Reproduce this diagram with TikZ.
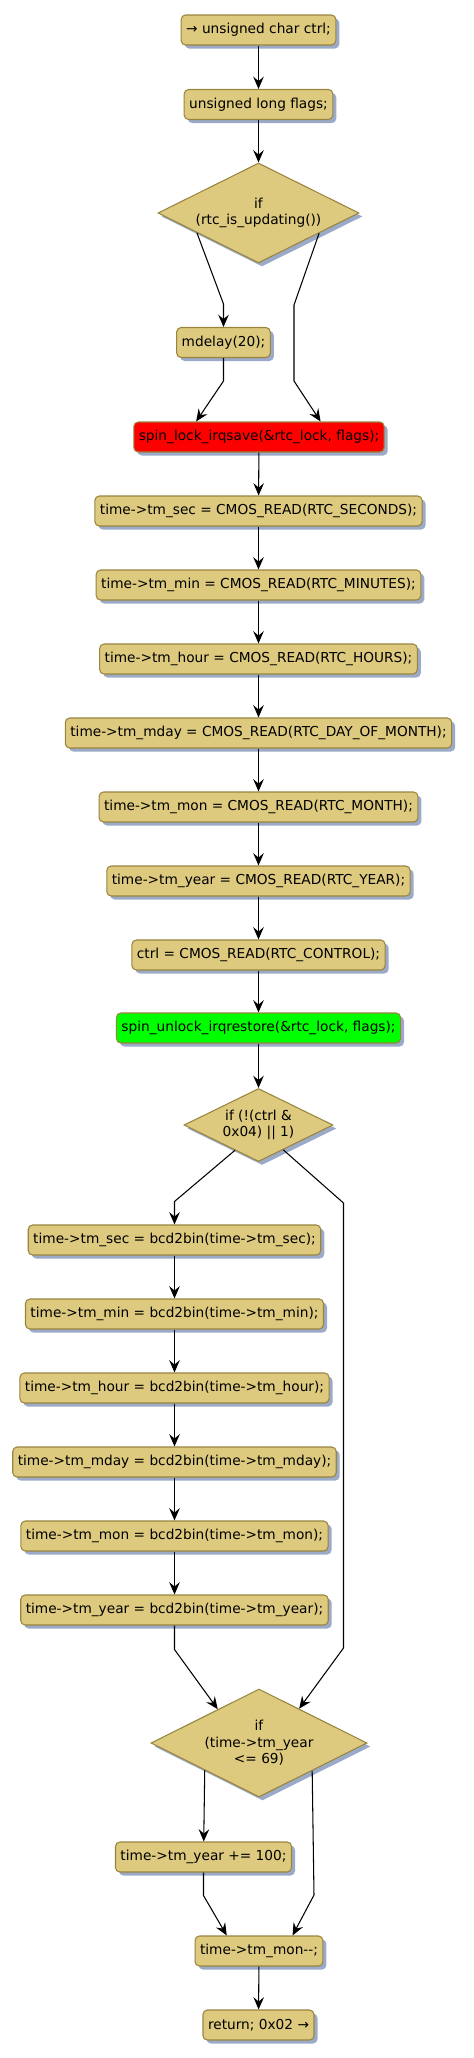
\documentclass[tikz,border=0pt]{standalone}
\usepackage{fontspec}
\setmainfont{DejaVu Sans}
\usetikzlibrary{shapes.geometric,arrows.meta,calc,shadows}
\definecolor{stmtcolor}{RGB}{221,202,126}
\definecolor{edgecolor}{RGB}{152,132,62}
\definecolor{shadecolor}{RGB}{155,170,200}
\definecolor{lockcolor}{RGB}{255,0,0}
\definecolor{unlockcolor}{RGB}{0,255,0}

\begin{document}
\begin{tikzpicture}[
    box/.style={rectangle, draw=edgecolor, fill=stmtcolor, rounded corners=2.5pt, line width=0.6pt, minimum height=0.6cm, inner xsep=0.1cm, inner ysep=0pt, font=\fontsize{7.8}{9.4}\selectfont, drop shadow={shadow xshift=0.07cm, shadow yshift=-0.07cm, fill=shadecolor, opacity=1}},
    cond/.style={diamond, aspect=2, draw=edgecolor, fill=stmtcolor, line width=0.6pt, inner sep=0pt, align=center, font=\fontsize{7.8}{9.4}\selectfont, drop shadow={shadow xshift=0.07cm, shadow yshift=-0.07cm, fill=shadecolor, opacity=1}},
    arrow/.style={-{Stealth[length=7pt,width=6pt,inset=2.5pt]}, line width=0.6pt}
]
\useasboundingbox (0,0) rectangle (9.46,-41.16);

% ============ Read the clock ============
\node[box] (decl1) at (5.17, -0.6) {→ unsigned char ctrl;};
\node[box] (decl2) at (5.17, -2.09) {unsigned long flags;};
\node[cond, minimum width=4.02cm, minimum height=2cm] (upd) at (5.17, -4.26) {if\\(rtc\_is\_updating())};
\node[box] (delay) at (4.47, -6.85) {mdelay(20);};
\node[box, fill=lockcolor] (lock) at (5.18, -8.74) {spin\_lock\_irqsave(\&rtc\_lock, flags);};
\node[box] (rsec) at (5.17, -10.22) {time->tm\_sec = CMOS\_READ(RTC\_SECONDS);};
\node[box] (rmin) at (5.17, -11.70) {time->tm\_min = CMOS\_READ(RTC\_MINUTES);};
\node[box] (rhour) at (5.17, -13.18) {time->tm\_hour = CMOS\_READ(RTC\_HOURS);};
\node[box] (rmday) at (5.17, -14.66) {time->tm\_mday = CMOS\_READ(RTC\_DAY\_OF\_MONTH);};
\node[box] (rmon) at (5.17, -16.14) {time->tm\_mon = CMOS\_READ(RTC\_MONTH);};
\node[box] (ryear) at (5.17, -17.62) {time->tm\_year = CMOS\_READ(RTC\_YEAR);};
\node[box] (rctrl) at (5.17, -19.10) {ctrl = CMOS\_READ(RTC\_CONTROL);};
\node[box, fill=unlockcolor] (unlock) at (5.17, -20.56) {spin\_unlock\_irqrestore(\&rtc\_lock, flags);};

\draw[arrow] (decl1) -- (decl2);
\draw[arrow] (decl2) -- (upd);
\draw[arrow] ($(upd.west)!0.39!(upd.south)$) -- ($(delay.north)+(0,0.46)$) -- (delay);
\draw[arrow] ($(upd.east)!0.4!(upd.south)$) -- (5.88,-6.1) -- (5.88,-7.62) -- ($(lock.north)!0.49!(lock.north east)$);
\draw[arrow] (delay) -- ($(delay.south)+(0,-0.46)$) -- ($(lock.north)!0.5!(lock.north west)$);
\draw[arrow] (lock) -- (rsec);
\draw[arrow] (rsec) -- (rmin);
\draw[arrow] (rmin) -- (rhour);
\draw[arrow] (rhour) -- (rmday);
\draw[arrow] (rmday) -- (rmon);
\draw[arrow] (rmon) -- (ryear);
\draw[arrow] (ryear) -- (rctrl);
\draw[arrow] (rctrl) -- (unlock);

% ============ BCD conversion ============
\node[cond, minimum width=2.98cm, minimum height=1.46cm] (bcd) at (5.17, -22.5) {if (!(ctrl \&\\0x04) || 1)};
\node[box] (bsec) at (3.49, -24.8) {time->tm\_sec = bcd2bin(time->tm\_sec);};
\node[box] (bmin) at (3.49, -26.28) {time->tm\_min = bcd2bin(time->tm\_min);};
\node[box] (bhour) at (3.49, -27.76) {time->tm\_hour = bcd2bin(time->tm\_hour);};
\node[box] (bmday) at (3.49, -29.24) {time->tm\_mday = bcd2bin(time->tm\_mday);};
\node[box] (bmon) at (3.49, -30.72) {time->tm\_mon = bcd2bin(time->tm\_mon);};
\node[box] (byear) at (3.49, -32.2) {time->tm\_year = bcd2bin(time->tm\_year);};

\draw[arrow] (unlock) -- (bcd);
\draw[arrow] ($(bcd.south)!0.315!(bcd.west)$) -- ($(bsec.north)+(0,0.46)$) -- (bsec);
\draw[arrow] (bsec) -- (bmin);
\draw[arrow] (bmin) -- (bhour);
\draw[arrow] (bhour) -- (bmday);
\draw[arrow] (bmday) -- (bmon);
\draw[arrow] (bmon) -- (byear);

% ============ Year fix-up ============
\node[cond, minimum width=4.32cm, minimum height=2.16cm] (yr) at (5.18, -34.86) {if\\(time->tm\_year\\<= 69)};
\node[box] (addyr) at (4.07, -37.14) {time->tm\_year += 100;};
\node[box] (decmon) at (5.18, -39.02) {time->tm\_mon-{}-;};
\node[box] (ret) at (5.17, -40.5) {return; 0x02 →};

\draw[arrow] ($(bcd.south)!0.33!(bcd.east)$) -- (6.87,-24.06) -- (6.87,-32.96) -- ($(yr.north)!0.37!(yr.east)$);
\draw[arrow] (byear) -- ($(byear.south)+(0,-0.48)$) -- ($(yr.north)!0.38!(yr.west)$);
\draw[arrow] ($(yr.south)!0.5!(yr.west)$) -- (addyr);
\draw[arrow] ($(yr.south)!0.49!(yr.east)$) -- (6.28,-37.9) -- ($(decmon.north)!0.52!(decmon.north east)$);
\draw[arrow] (addyr) -- ($(addyr.south)+(0,-0.46)$) -- ($(decmon.north)!0.5!(decmon.north west)$);
\draw[arrow] (decmon) -- (ret);

\end{tikzpicture}
\end{document}
